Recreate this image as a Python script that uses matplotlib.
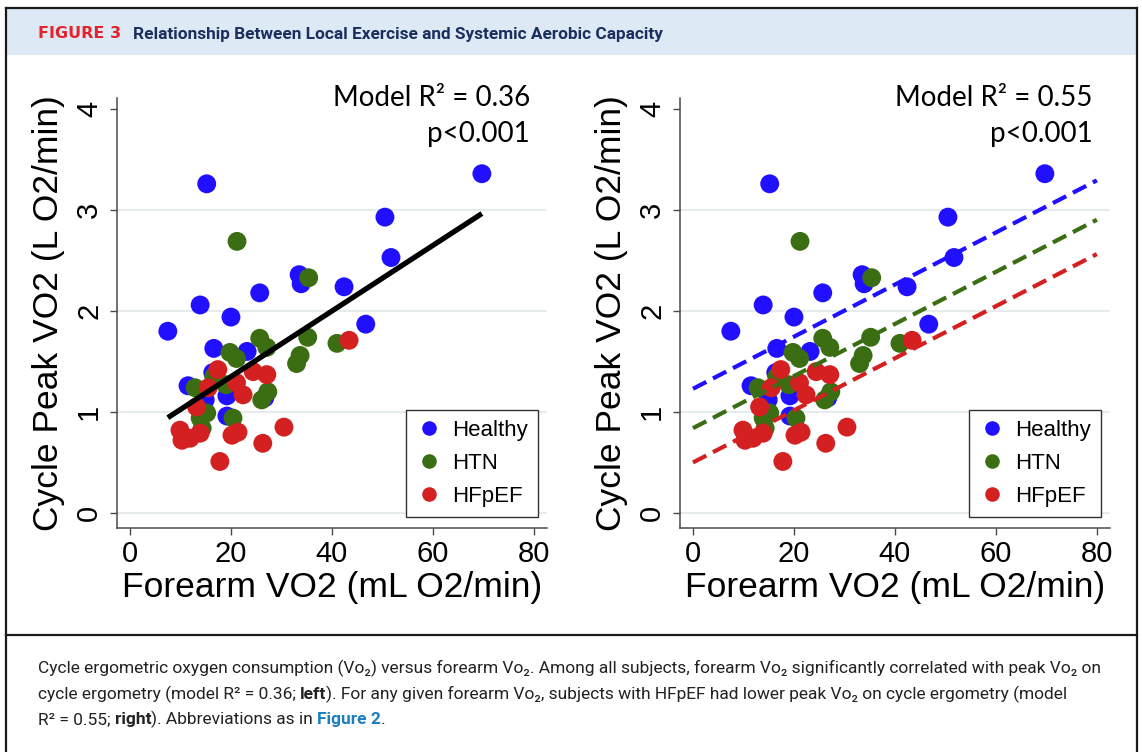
import matplotlib
matplotlib.use("Agg")
import matplotlib.pyplot as plt
import numpy as np
from matplotlib.lines import Line2D
from matplotlib.patches import Rectangle

# ---------------- data ----------------
groups = ["Healthy", "HTN", "HFpEF"]
colors = ["#2010ff", "#3b6e12", "#d42020"]

healthy_x = [15.2, 69.7, 50.5, 51.7, 33.5, 33.9, 42.4, 25.7, 13.9, 20.0,
             7.5, 46.7, 16.6, 23.2, 11.5, 16.4, 19.2, 14.9, 19.2, 26.7]
healthy_y = [3.26, 3.36, 2.93, 2.53, 2.36, 2.27, 2.24, 2.18, 2.06, 1.94,
             1.80, 1.87, 1.63, 1.60, 1.26, 1.39, 1.16, 1.12, 0.96, 1.14]

htn_x = [21.2, 35.4, 25.7, 35.2, 41.0, 33.7, 33.0, 19.8, 21.1, 27.1,
         12.9, 16.6, 19.0, 27.3, 26.1, 15.2, 13.9, 14.3, 20.4]
htn_y = [2.69, 2.33, 1.73, 1.74, 1.68, 1.56, 1.48, 1.59, 1.53, 1.64,
         1.24, 1.35, 1.27, 1.20, 1.12, 0.99, 0.94, 0.84, 0.94]

hfpef_x = [43.4, 17.4, 24.4, 27.1, 21.1, 22.4, 15.5, 13.2, 9.9, 10.3,
           11.9, 13.9, 20.2, 21.4, 26.3, 30.5, 17.8]
hfpef_y = [1.71, 1.42, 1.40, 1.37, 1.29, 1.17, 1.24, 1.05, 0.82, 0.72,
           0.74, 0.79, 0.77, 0.80, 0.69, 0.85, 0.51]

# overall fit (left) and group-specific parallel fits (right)
fit_all = (0.70, 0.0325)            # intercept, slope
fit_groups_intercept = [1.23, 0.84, 0.50]
fit_groups_slope = 0.0258
fit_groups_xrange = (0, 80)

xticks = [0, 20, 40, 60, 80]
yticks = [0, 1, 2, 3, 4]
stats_left = ("Model R\u00b2 = 0.36", "p<0.001")
stats_right = ("Model R\u00b2 = 0.55", "p<0.001")

xs = [healthy_x, htn_x, hfpef_x]
ys = [healthy_y, htn_y, hfpef_y]

# ---------------- figure ----------------
W, H = 1142, 752
fig = plt.figure(figsize=(W / 100, H / 100), dpi=100)

def fx(px):
    return px / W

def fy(py):
    return 1 - py / H

# frame and header band
fig.add_artist(Rectangle((fx(7), fy(55)), fx(1137) - fx(7), fy(8) - fy(55),
                         transform=fig.transFigure, facecolor="#dde9f5",
                         edgecolor="none", zorder=0))
frame_kw = dict(transform=fig.transFigure, color="#1a1a1a", lw=1.6)
fig.add_artist(Line2D([fx(6), fx(1137)], [fy(7.5), fy(7.5)], **frame_kw))
fig.add_artist(Line2D([fx(6), fx(6)], [fy(7.5), 0], **frame_kw))
fig.add_artist(Line2D([fx(1137), fx(1137)], [fy(7.5), 0], **frame_kw))
fig.add_artist(Line2D([fx(6), fx(1137)], [fy(635), fy(635)], **frame_kw))

fig.text(fx(38), fy(34), "FIGURE 3", color="#e3242b", fontsize=11.5,
         fontweight="bold", family=["DejaVu Sans"], va="center", ha="left")
fig.text(fx(133), fy(34), "Relationship Between Local Exercise and Systemic Aerobic Capacity",
         color="#1b2f5e", fontsize=12.4, fontweight="bold",
         family=["Roboto", "DejaVu Sans"], va="center", ha="left")

plot_font = ["Liberation Sans", "DejaVu Sans"]


def style_axes(ax):
    ax.set_xlim(-2.57, 82.6)
    ax.set_ylim(-0.149, 4.11)
    for s in ["top", "right"]:
        ax.spines[s].set_visible(False)
    for s in ["left", "bottom"]:
        ax.spines[s].set_color("#4a4a4a")
        ax.spines[s].set_linewidth(1.1)
    ax.set_xticks(xticks)
    ax.set_yticks(yticks)
    ax.tick_params(axis="both", direction="out", length=5, width=1.0,
                   color="#4a4a4a", labelsize=21)
    ax.tick_params(axis="x", pad=3.5)
    ax.tick_params(axis="y", pad=5, labelrotation=90)
    for lab in ax.get_yticklabels():
        lab.set_va("center")
        lab.set_family(plot_font)
    for lab in ax.get_xticklabels():
        lab.set_family(plot_font)
    ax.grid(axis="y", color="#e6eced", lw=1.5, zorder=0)
    gl = ax.get_ygridlines()
    gl[-1].set_visible(False)
    ax.set_axisbelow(True)
    ax.set_xlabel("Forearm VO2 (mL O2/min)", fontsize=25.5, family=plot_font,
                  labelpad=2)
    ax.set_ylabel("Cycle Peak VO2 (L O2/min)", fontsize=25.5, family=plot_font,
                  labelpad=7.5)


def scatter_groups(ax):
    for x, y, c in zip(xs, ys, colors):
        ax.scatter(x, y, s=185, color=c, edgecolors="none", zorder=3)


def add_legend(ax):
    handles = [Line2D([], [], marker="o", linestyle="none", markersize=10.5,
                      markerfacecolor=c, markeredgecolor="none") for c in colors]
    leg = ax.legend(handles, groups, loc="lower right",
                    bbox_to_anchor=(0.979, 0.026), borderaxespad=0,
                    fancybox=False, framealpha=1, edgecolor="#333333",
                    prop={"family": plot_font, "size": 16},
                    labelspacing=0.54, handletextpad=0.45, handlelength=1.2,
                    borderpad=0.45)
    leg.get_frame().set_linewidth(1.0)
    leg.set_zorder(5)


def add_stats(ax, lines):
    ax.text(0.96, 1.0, lines[0], transform=ax.transAxes, ha="right",
            va="center", fontsize=20, family=["Lato", "DejaVu Sans"])
    ax.text(0.96, 0.917, lines[1], transform=ax.transAxes, ha="right",
            va="center", fontsize=20, family=["Lato", "DejaVu Sans"])


axL = fig.add_axes([fx(117), fy(528), 430 / W, 430 / H])
axR = fig.add_axes([fx(680), fy(528), 430 / W, 430 / H])

for ax in (axL, axR):
    style_axes(ax)
    scatter_groups(ax)
    add_legend(ax)

# left: overall fit line over data range
all_x = np.concatenate([healthy_x, htn_x, hfpef_x])
xl = np.array([all_x.min(), all_x.max()])
axL.plot(xl, fit_all[0] + fit_all[1] * xl, color="black", lw=3.8,
         solid_capstyle="butt", zorder=4)
add_stats(axL, stats_left)

# right: parallel group fits
xr = np.array(fit_groups_xrange, dtype=float)
for b0, c in zip(fit_groups_intercept, colors):
    axR.plot(xr, b0 + fit_groups_slope * xr, color=c, lw=3.0,
             linestyle=(0, (3.6, 1.8)), zorder=4)
add_stats(axR, stats_right)

# ---------------- caption ----------------
cap_font = ["Roboto", "DejaVu Sans"]
cap_size = 12.55
cap_kw = dict(fontsize=cap_size, family=cap_font, color="#222222", ha="left",
              va="baseline")
cap_lines = [
    "Cycle ergometric oxygen consumption (Vo\u2082) versus forearm Vo\u2082. Among all subjects, forearm Vo\u2082 significantly correlated with peak Vo\u2082 on",
    "cycle ergometry (model R\u00b2 = 0.36; ",
    "R\u00b2 = 0.55; ",
]
base_y = [673, 699, 724]

renderer = fig.canvas.get_renderer()


def width_px(s, **kw):
    t = fig.text(0, 0, s, **kw)
    w = t.get_window_extent(renderer).width
    t.remove()
    return w


space_w = width_px("a a", fontsize=cap_size, family=cap_font) - \
    width_px("aa", fontsize=cap_size, family=cap_font)


def write_segments(segments, by):
    x = 38.0
    for s, kw in segments:
        lead = len(s) - len(s.lstrip(" "))
        trail = len(s) - len(s.rstrip(" "))
        x += lead * space_w
        core = s.strip(" ")
        kk = dict(cap_kw)
        kk.update(kw)
        t = fig.text(fx(x), fy(by), core, **kk)
        x += t.get_window_extent(renderer).width + trail * space_w


bold = {"fontweight": "bold"}
link = {"fontweight": "bold", "color": "#1a7fc1"}
write_segments([(cap_lines[0], {})], base_y[0])
write_segments([(cap_lines[1], {}), ("left", bold),
                ("). For any given forearm Vo\u2082, subjects with HFpEF had lower peak Vo\u2082 on cycle ergometry (model", {})],
               base_y[1])
write_segments([(cap_lines[2], {}), ("right", bold),
                ("). Abbreviations as in ", {}), ("Figure 2", link), (".", {})],
               base_y[2])

fig.savefig("out.png", dpi=100)
